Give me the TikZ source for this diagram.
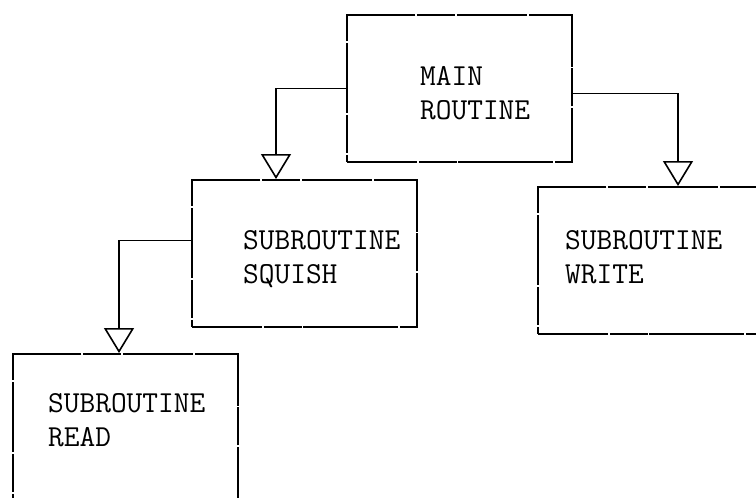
\documentclass[tikz,border=0pt]{standalone}
\usetikzlibrary{arrows.meta}
\begin{document}
\begin{tikzpicture}[x=1pt,y=-1pt,
  box/.style={draw,line width=1.6pt,rectangle,inner sep=0pt,
    minimum width=225pt,minimum height=147pt,anchor=north west,
    dash pattern=on 70pt off 2pt on 38pt off 1.5pt on 95pt off 2pt},
  lbl/.style={inner sep=0pt,anchor=north west,align=left,
    font=\fontsize{30.5}{34}\selectfont\ttfamily},
  flow/.style={line width=1.6pt,
    -{Triangle[open,width=30pt,length=25pt,line width=1.6pt]}}]
\useasboundingbox (0,0) rectangle (756,498);
\clip (0,0) rectangle (756,498);
% program modules
\node[box] (main)   at (346,14)  {};
\node[box] (squish) at (191,179) {};
\node[box] (write)  at (537,186) {};
\node[box] (read)   at (12,353)  {};
% module names
\node[lbl] (maintxt)   at (420,66)  {MAIN\\ROUTINE};
\node[lbl] (squishtxt) at (243,230) {SUBROUTINE\\SQUISH};
\node[lbl] (writetxt)  at (565,230) {SUBROUTINE\\WRITE};
\node[lbl] (readtxt)   at (48,393)  {SUBROUTINE\\READ};
% columns where the calls drop down
\coordinate (c1) at (276,0);
\coordinate (c2) at (678,0);
\coordinate (c3) at (119,0);
% calls
\draw[flow] (main.west) -| (squish.north -| c1);
\draw[flow] ([yshift=-5pt]main.east) -| (write.north -| c2);
\draw[flow] ([yshift=13pt]squish.west) -| (read.north -| c3);
\end{tikzpicture}
\end{document}
